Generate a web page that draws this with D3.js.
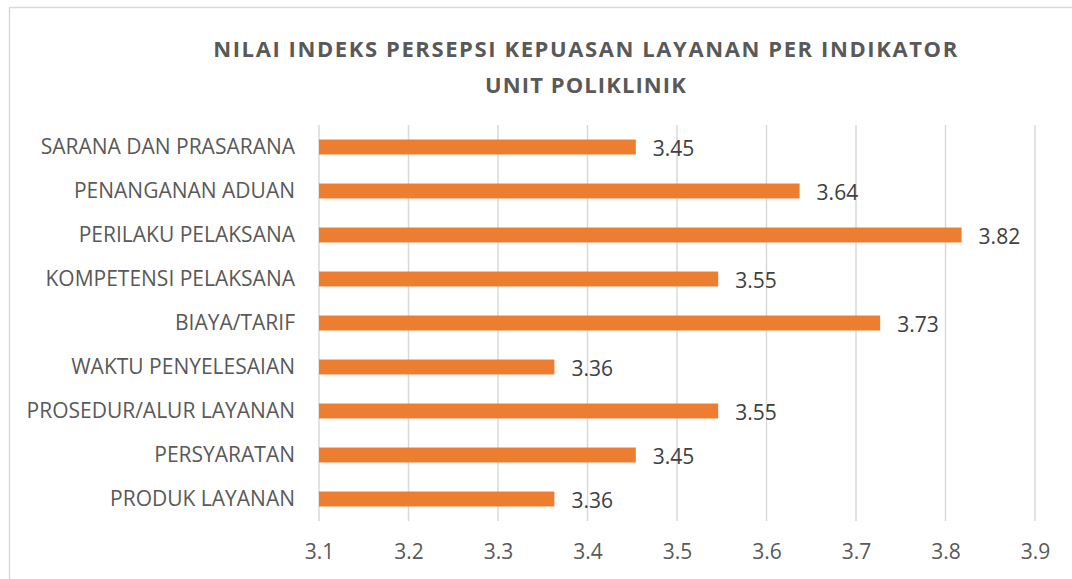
<!DOCTYPE html>
<html>
<head>
<meta charset="utf-8">
<script src="https://cdn.jsdelivr.net/npm/d3@7"></script>
<style>
  body { margin: 0; background: #fff; }
  text { font-family: "Open Sans", sans-serif; }
</style>
</head>
<body>
<div id="chart"></div>
<script>
const categories = [
  "SARANA DAN PRASARANA",
  "PENANGANAN ADUAN",
  "PERILAKU PELAKSANA",
  "KOMPETENSI PELAKSANA",
  "BIAYA/TARIF",
  "WAKTU PENYELESAIAN",
  "PROSEDUR/ALUR LAYANAN",
  "PERSYARATAN",
  "PRODUK LAYANAN"
];
const values = [3.454, 3.637, 3.818, 3.546, 3.727, 3.363, 3.546, 3.454, 3.363];
const xTicks = [3.1, 3.2, 3.3, 3.4, 3.5, 3.6, 3.7, 3.8, 3.9];
const titleLines = ["NILAI INDEKS PERSEPSI KEPUASAN LAYANAN PER INDIKATOR", "UNIT POLIKLINIK"];

const width = 1072;
const height = 579;
const marginTop = 125;
const marginBottom = 58;   // plot bottom at 521
const marginLeft = 319;
const marginRight = 37;    // 3.9 at ~1035

const svg = d3.select('#chart').append('svg')
    .attr('width', width)
    .attr('height', height);

// chart frame (only top/left visible in the window)
svg.append('rect')
    .attr('x', 9.5).attr('y', 7.5)
    .attr('width', 1100).attr('height', 600)
    .attr('fill', 'none')
    .attr('stroke', '#d9d9d9')
    .attr('stroke-width', 1.5);

const x = d3.scaleLinear()
    .domain([3.1, 3.9])
    .range([marginLeft, width - marginRight]);

const y = d3.scaleBand()
    .domain(categories)
    .range([marginTop, height - marginBottom])
    .paddingInner(0.66)
    .paddingOuter(0.33);

// title
svg.append('g')
    .selectAll()
    .data(titleLines)
    .join('text')
    .attr('x', 586)
    .attr('y', (d, i) => 57 + i * 36)
    .attr('text-anchor', 'middle')
    .attr('fill', '#595959')
    .style('font-size', '22px')
    .style('font-weight', 'bold')
    .style('letter-spacing', (d, i) => i === 0 ? '1.6px' : '1.1px')
    .text(d => d);

// gridlines
svg.append('g')
    .selectAll()
    .data(xTicks)
    .join('line')
    .attr('x1', d => x(d)).attr('x2', d => x(d))
    .attr('y1', marginTop).attr('y2', height - marginBottom)
    .attr('stroke', '#d9d9d9')
    .attr('stroke-width', 1.5);

// bars
svg.append('g')
    .attr('fill', '#ed7d31')
    .selectAll()
    .data(values)
    .join('rect')
    .attr('x', x(3.1))
    .attr('y', (d, i) => y(categories[i]))
    .attr('width', d => x(d) - x(3.1))
    .attr('height', y.bandwidth());

// data labels
svg.append('g')
    .attr('fill', '#404040')
    .selectAll()
    .data(values)
    .join('text')
    .attr('x', d => x(d) + 17)
    .attr('y', (d, i) => y(categories[i]) + y.bandwidth() / 2 + 9)
    .style('font-size', '21px')
    .text(d => d3.format('.2f')(d));

// x axis (labels only)
svg.append('g')
    .attr('transform', `translate(0,${height - marginBottom})`)
    .call(d3.axisBottom(x).tickValues(xTicks).tickFormat(d3.format('.1f')).tickSize(0).tickPadding(23))
    .call(g => g.select('.domain').remove())
    .call(g => g.selectAll('text').attr('fill', '#595959').style('font-size', '21px').style('font-family', '"Open Sans", sans-serif'));

// y axis (labels only)
svg.append('g')
    .attr('transform', `translate(${marginLeft},0)`)
    .call(d3.axisLeft(y).tickSize(0).tickPadding(24))
    .call(g => g.select('.domain').remove())
    .call(g => g.selectAll('text').attr('fill', '#595959').style('font-size', '21px').style('font-family', '"Open Sans", sans-serif'));
</script>
</body>
</html>
